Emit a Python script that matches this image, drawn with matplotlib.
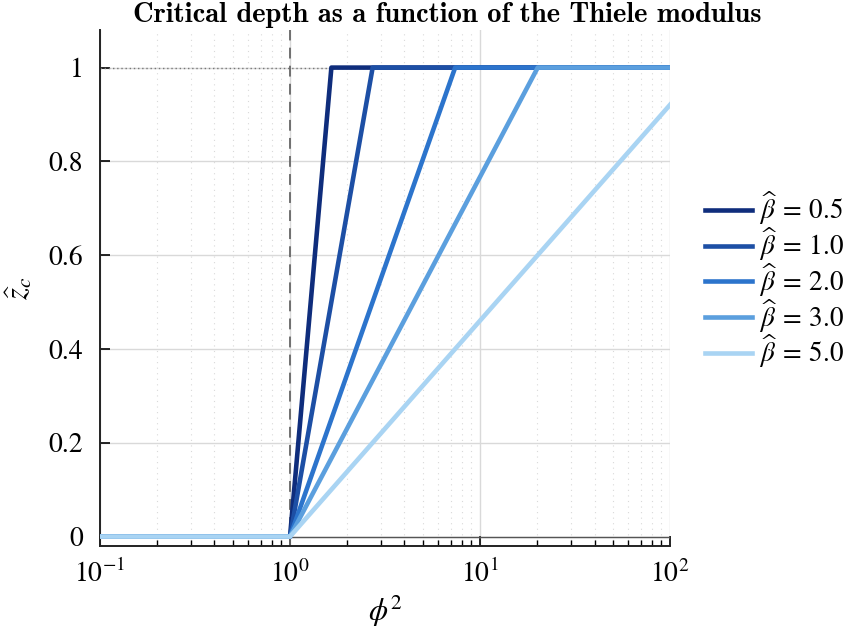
import numpy as np
import matplotlib
matplotlib.use("Agg")
import matplotlib.pyplot as plt
import matplotlib.ticker as mticker

plt.rcParams.update({
    "font.family": "STIXGeneral",
    "mathtext.fontset": "stix",
})

# beta values and the breakpoints of each piecewise curve
BETAS = [0.5, 1.0, 2.0, 3.0, 5.0]
PHI2_POINTS = [
    [0.1, 1.0, 1.65, 100.0],
    [0.1, 1.0, 2.72, 100.0],
    [0.1, 1.0, 7.39, 100.0],
    [0.1, 1.0, 20.1, 100.0],
    [0.1, 1.0, 100.0],
]
ZC_POINTS = [
    [0.0, 0.0, 1.0, 1.0],
    [0.0, 0.0, 1.0, 1.0],
    [0.0, 0.0, 1.0, 1.0],
    [0.0, 0.0, 1.0, 1.0],
    [0.0, 0.0, 0.921],
]
COLORS = ["#0f2d7c", "#1d4fa5", "#2c74cc", "#5b9fde", "#a9d4f3"]

fig = plt.figure(figsize=(8.51, 6.4), dpi=100)
ax = fig.add_axes([0.1175, 0.147, 0.67, 0.806])

ax.set_xscale("log")
ax.set_xlim(0.1, 100)
ax.set_ylim(-0.02, 1.08)

ax.grid(True, which="major", color="#d9d9d9", linewidth=1.0)
ax.grid(True, which="minor", axis="x", color="#d9d9d9", linewidth=0.8, linestyle=(0, (1, 4)))
ax.set_axisbelow(True)

ax.axhline(0, color="#555555", linewidth=1.0, zorder=1)
ax.axhline(1, color="#777777", linewidth=1.0, linestyle=(0, (1, 2)), zorder=1)
ax.axvline(1, color="#666666", linewidth=1.3, linestyle=(0, (6, 4)), zorder=1)

for beta, xs, ys, c in zip(BETAS, PHI2_POINTS, ZC_POINTS, COLORS):
    ax.plot(xs, ys, color=c, linewidth=3.3,
            label=rf"$\widehat{{\beta}}\:=\:{beta:.1f}$", zorder=3)

for side in ["top", "right"]:
    ax.spines[side].set_visible(False)
for side in ["left", "bottom"]:
    ax.spines[side].set_linewidth(1.4)
    ax.spines[side].set_color("#222222")

ax.set_yticks([0, 0.2, 0.4, 0.6, 0.8, 1])
ax.set_yticklabels(["0", "0.2", "0.4", "0.6", "0.8", "1"])
ax.xaxis.set_major_locator(mticker.LogLocator(base=10, numticks=10))
ax.xaxis.set_minor_locator(mticker.LogLocator(base=10, subs=np.arange(2, 10), numticks=20))
ax.xaxis.set_minor_formatter(mticker.NullFormatter())
ax.tick_params(axis="both", which="major", direction="in", length=7, width=1.2,
               labelsize=20, pad=10)
ax.tick_params(axis="x", which="minor", direction="in", length=4, width=1.0)
ax.tick_params(axis="y", which="major", pad=12)

ax.set_xlabel(r"$\phi^2$", fontsize=22, labelpad=4)
ax.set_ylabel(r"$\widehat{z}_c$", fontsize=22, labelpad=10)
ax.set_title("Critical depth as a function of the Thiele modulus",
             fontfamily="cmb10", fontsize=20.5, pad=6, x=0.609)

ax.legend(loc="center left", bbox_to_anchor=(1.061, 0.515), frameon=False,
          fontsize=19.5, handlelength=1.75, handletextpad=0.25, labelspacing=-0.06,
          borderpad=0, borderaxespad=0)

fig.savefig("out.png", dpi=100)
plt.close(fig)
